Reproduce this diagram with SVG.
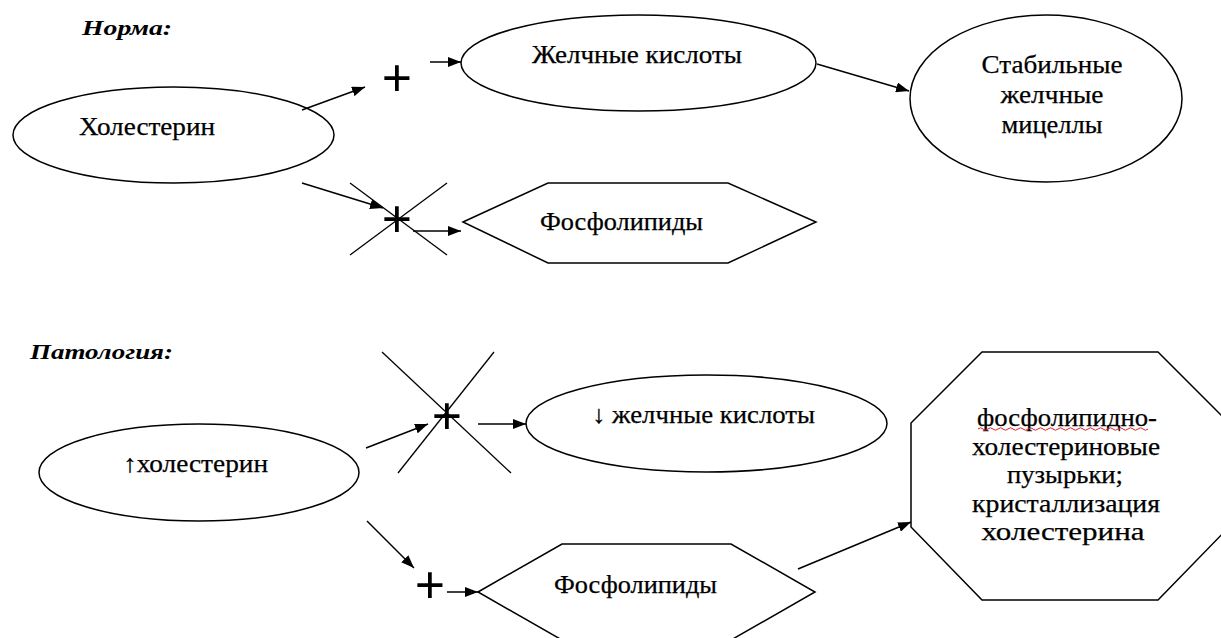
<svg xmlns="http://www.w3.org/2000/svg" width="1221" height="638" viewBox="0 0 1221 638" font-family="Liberation Serif, Times New Roman, serif">
<style>
.shape{fill:#fff;stroke:#000;stroke-width:1.5}
.line{stroke:#000;stroke-width:1.5;fill:none}
.cross{stroke:#000;stroke-width:1.3;fill:none}
.t{font-size:25px;fill:#000;stroke:#000;stroke-width:0.25}
.c{text-anchor:middle}
.title{font-size:22px;font-weight:bold;font-style:italic;fill:#000}
.plus{font-size:54px;font-weight:bold;fill:#000;text-anchor:middle}
</style>
<defs>
<marker id="ah" markerUnits="userSpaceOnUse" markerWidth="14" markerHeight="10" refX="13" refY="5" orient="auto">
<path d="M0,0 L13,5 L0,10 z" fill="#000"/>
</marker>
</defs>
<rect width="1221" height="638" fill="#fff"/>

<text class="title" x="82" y="35" textLength="90" lengthAdjust="spacingAndGlyphs">Норма:</text>
<text class="title" x="30" y="359" textLength="143" lengthAdjust="spacingAndGlyphs">Патология:</text>

<g id="n-cholesterol">
<ellipse class="shape" cx="173.5" cy="135" rx="160.5" ry="48"/>
<text class="t" x="79" y="135" textLength="136" lengthAdjust="spacingAndGlyphs">Холестерин</text>
</g>
<g id="n-bile-acids">
<ellipse class="shape" cx="638.5" cy="63" rx="177.5" ry="48"/>
<text class="t" x="532" y="63" textLength="210" lengthAdjust="spacingAndGlyphs">Желчные кислоты</text>
</g>
<g id="n-micelles">
<ellipse class="shape" cx="1046" cy="98.5" rx="136" ry="83.5"/>
<text class="t c" x="1052" y="73" textLength="141" lengthAdjust="spacingAndGlyphs">Стабильные</text>
<text class="t c" x="1052" y="103" textLength="103" lengthAdjust="spacingAndGlyphs">желчные</text>
<text class="t c" x="1052" y="133" textLength="101" lengthAdjust="spacingAndGlyphs">мицеллы</text>
</g>
<g id="n-phospholipids-1">
<polygon class="shape" points="463,222 548,183 728,183 816,222 728,263 548,263"/>
<text class="t" x="540" y="230" textLength="163" lengthAdjust="spacingAndGlyphs">Фосфолипиды</text>
</g>

<g id="p-cholesterol">
<ellipse class="shape" cx="199" cy="472.5" rx="160" ry="48.5"/>
<text class="t" x="123" y="472" textLength="145" lengthAdjust="spacingAndGlyphs">↑холестерин</text>
</g>
<g id="p-bile-acids">
<ellipse class="shape" cx="706.5" cy="423.5" rx="180.5" ry="48.5"/>
<text class="t" x="592" y="423" textLength="223" lengthAdjust="spacingAndGlyphs">↓ желчные кислоты</text>
</g>
<g id="p-phospholipids">
<polygon class="shape" points="478,592 562,544 731,544 815,592 731,640 562,640"/>
<text class="t" x="554" y="593" textLength="163" lengthAdjust="spacingAndGlyphs">Фосфолипиды</text>
</g>
<g id="p-vesicles">
<polygon class="shape" points="982,352 1158,352 1229,423 1229,527 1158,600 982,600 911,527 911,423"/>
<text class="t c" x="1067" y="426" textLength="180" lengthAdjust="spacingAndGlyphs">фосфолипидно-</text>
<path d="M978,429 q2.5,-2.5 5,0 t5,0 t5,0 t5,0 t5,0 t5,0 t5,0 t5,0 t5,0 t5,0 t5,0 t5,0 t5,0 t5,0 t5,0 t5,0 t5,0 t5,0 t5,0 t5,0 t5,0 t5,0 t5,0 t5,0 t5,0 t5,0 t5,0 t5,0 t5,0 t5,0 t5,0 t5,0 t5,0 t5,0" fill="none" stroke="#e02020" stroke-width="1"/>
<text class="t c" x="1066" y="454.5" textLength="188" lengthAdjust="spacingAndGlyphs">холестериновые</text>
<text class="t c" x="1065" y="483" textLength="116" lengthAdjust="spacingAndGlyphs">пузырьки;</text>
<text class="t c" x="1066" y="511.5" textLength="188" lengthAdjust="spacingAndGlyphs">кристаллизация</text>
<text class="t c" x="1063" y="540" textLength="163" lengthAdjust="spacingAndGlyphs">холестерина</text>
</g>

<g id="connectors">
<line class="line" x1="302" y1="110" x2="365" y2="87" marker-end="url(#ah)"/>
<line class="line" x1="430" y1="62" x2="461" y2="62" marker-end="url(#ah)"/>
<line class="line" x1="817" y1="64" x2="909" y2="91" marker-end="url(#ah)"/>
<line class="line" x1="302" y1="183" x2="383" y2="208" marker-end="url(#ah)"/>
<line class="line" x1="413" y1="231" x2="461" y2="231" marker-end="url(#ah)"/>
<line class="line" x1="366" y1="448" x2="428" y2="424" marker-end="url(#ah)"/>
<line class="line" x1="478" y1="424" x2="526" y2="424" marker-end="url(#ah)"/>
<line class="line" x1="367" y1="521" x2="414" y2="568" marker-end="url(#ah)"/>
<line class="line" x1="447" y1="592" x2="478" y2="592" marker-end="url(#ah)"/>
<line class="line" x1="798" y1="569" x2="911" y2="522" marker-end="url(#ah)"/>
<line class="cross" x1="350" y1="183" x2="447" y2="255"/>
<line class="cross" x1="447" y1="183" x2="350" y2="255"/>
<line class="cross" x1="382" y1="352" x2="511" y2="473"/>
<line class="cross" x1="494" y1="352" x2="398" y2="473"/>
</g>

<g id="signs">
<text class="plus" x="397" y="96">+</text>
<text class="plus" x="397" y="237">+</text>
<text class="plus" x="447" y="434">+</text>
<text class="plus" x="430" y="603">+</text>
</g>
</svg>
